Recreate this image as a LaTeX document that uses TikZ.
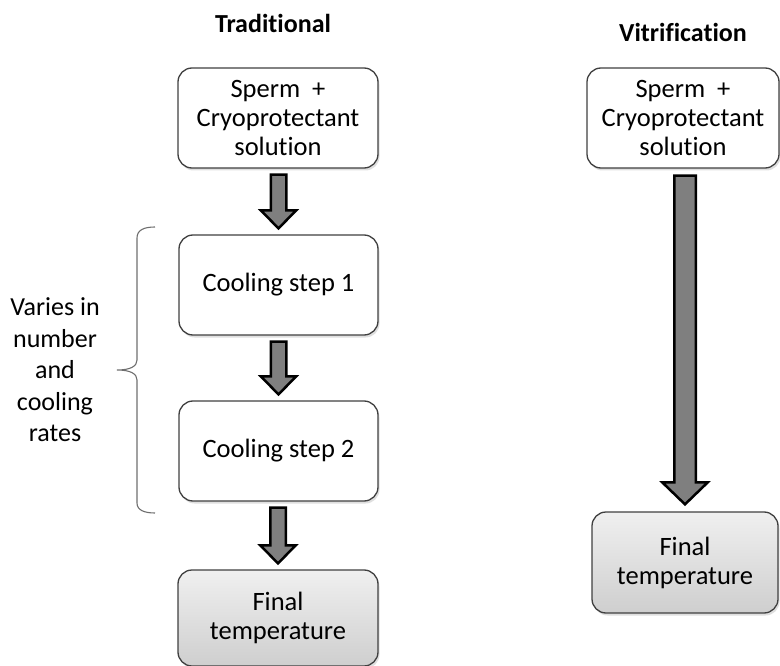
\documentclass[tikz,border=0pt]{standalone}
\usepackage{fontspec}
\setmainfont[Ligatures=NoCommon]{Carlito}
\usetikzlibrary{calc,shadows}
\definecolor{arrowgray}{HTML}{7F7F7F}
\definecolor{boxline}{HTML}{404040}
\definecolor{bracegray}{HTML}{6E6E6E}
\tikzset{
  stagebox/.style={draw=boxline, line width=1.3pt, rounded corners=14pt,
    fill=white, align=center, inner sep=0pt,
    font=\fontsize{26.5}{29}\selectfont,
    drop shadow={opacity=0.25, shadow xshift=1.5pt, shadow yshift=-2.5pt}},
  finalbox/.style={stagebox, top color=gray!12, bottom color=gray!38},
  blockarrow/.style={draw=black, fill=arrowgray, line width=2.5pt, line join=miter},
  titletext/.style={font=\fontsize{26}{29}\selectfont\bfseries},
  sidetext/.style={align=center, font=\fontsize{26}{31.5}\selectfont},
  bracepath/.style={draw=bracegray, line width=1.1pt}
}
% #1 from, #2 to, #3 half shaft, #4 half head, #5 head length, #6 gap
\newcommand\blockarr[6]{%
  \draw[blockarrow] let \p1=(#1.south), \p2=(#2.north) in
    (\x2-#3,\y1-#6) -- (\x2+#3,\y1-#6) -- (\x2+#3,\y2+#6+#5) --
    (\x2+#4,\y2+#6+#5) -- (\x2,\y2+#6) -- (\x2-#4,\y2+#6+#5) --
    (\x2-#3,\y2+#6+#5) -- cycle;}
\begin{document}
\begin{tikzpicture}[x=1pt,y=-1pt]
\useasboundingbox (0,0) rectangle (780,666);
% titles
\node[titletext] (ttrad) at (273,23) {Traditional};
\node[titletext] (tvit) at (683,32) {Vitrification};
% traditional column
\node[stagebox, minimum width=200pt, minimum height=100pt] (t1) at (278,118)
  {Sperm\ \ +\\Cryoprotectant\\solution};
\node[stagebox, minimum width=199pt, minimum height=100pt] (t2) at (278.5,285)
  {Cooling step 1};
\node[stagebox, minimum width=199pt, minimum height=100pt] (t3) at (278.5,451)
  {Cooling step 2};
\node[finalbox, minimum width=200pt, minimum height=96pt] (t4) at (278,618)
  {Final\\temperature};
% vitrification column
\node[stagebox, minimum width=192pt, minimum height=100pt] (v1) at (683,118)
  {Sperm\ \ +\\Cryoprotectant\\solution};
\node[finalbox, minimum width=186pt, minimum height=101pt] (v2) at (685,562.5)
  {Final\\temperature};
% arrows
\blockarr{t1}{t2}{7.75pt}{17.75pt}{18pt}{6pt}
\blockarr{t2}{t3}{7.75pt}{17.75pt}{18pt}{6pt}
\blockarr{t3}{t4}{7.75pt}{17.75pt}{18pt}{6pt}
\blockarr{v1}{v2}{10.75pt}{22.75pt}{22pt}{7pt}
% brace and side label
\coordinate (btop) at (155,227);
\coordinate (btip) at (117,370);
\coordinate (bbot) at (155,513);
\draw[bracepath] (btop) .. controls (144,227) and (137,230) .. (137,238)
  -- (137,360) .. controls (137,366) and (131,370) .. (btip)
  .. controls (131,370) and (137,374) .. (137,380)
  -- (137,503) .. controls (137,510) and (144,513) .. (bbot);
\node[sidetext] (side) at (55,370) {Varies in\\number\\and\\cooling\\rates};
\end{tikzpicture}
\end{document}
